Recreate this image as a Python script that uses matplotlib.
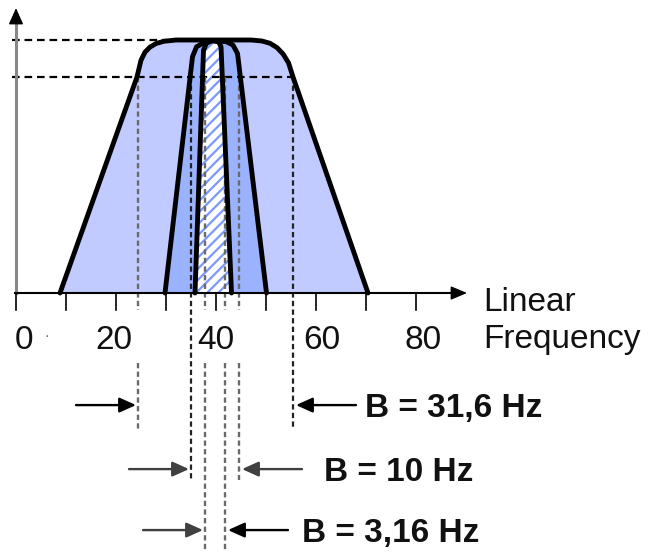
import matplotlib
matplotlib.use("Agg")
import matplotlib.pyplot as plt

plt.rcParams['font.family'] = ['Liberation Sans', 'DejaVu Sans']
plt.rcParams['hatch.linewidth'] = 1.6
plt.rcParams['lines.scale_dashes'] = False

# filter shapes: linear frequency vs. relative level (1 = peak)
outer_f = [8.8, 24.2, 25.0, 25.8, 26.8, 28.0, 29.6, 32.0, 47.0, 49.2, 50.8, 52.2, 53.4, 54.5, 55.4, 70.4]
outer_a = [0, 0.854, 0.920, 0.952, 0.972, 0.986, 0.995, 1.0, 1.0, 0.996, 0.987, 0.970, 0.945, 0.910, 0.854, 0]
mid_f = [29.8, 35.3, 36.1, 37.5, 39.4, 42.1, 43.4, 44.3, 50.1]
mid_a = [0, 0.934, 0.973, 0.989, 0.998, 0.993, 0.980, 0.947, 0]
inner_f = [35.8, 37.5, 38.1, 39.1, 40.5, 41.0, 43.1]
inner_a = [0, 0.960, 0.987, 0.997, 0.993, 0.974, 0]

peak = 1.0
half_power = 0.854

# bandwidth markers
band_labels = ['B = 31,6 Hz', 'B = 10 Hz', 'B = 3,16 Hz']
band_lo = [24.4, 35.0, 37.8]
band_hi = [55.4, 44.6, 41.8]

ticks = [0, 10, 20, 30, 40, 50, 60, 70, 80]
tick_labels = ['0', '20', '40', '60', '80']
tick_label_x = [1.5, 19.6, 40, 61.2, 81.4]

# layout (one axes spanning the figure, 5 px per Hz)
fig = plt.figure(figsize=(6.48, 5.52), dpi=100)
ax = fig.add_axes([0, 0, 1, 1])
ax.set_xlim(-3.2, 126.4)
ax.set_ylim(-1.0237, 1.1581)
ax.axis('off')

light = '#c2cbff'
medium = '#9bb3ff'
hatch_col = '#7b98fb'
gray = '#6a6a6a'

ax.fill(outer_f, outer_a, color=light, lw=0, zorder=1)
ax.fill(mid_f, mid_a, color=medium, lw=0, zorder=2)
ax.fill(inner_f, inner_a, facecolor='white', edgecolor=hatch_col, hatch='///', lw=0, zorder=3)

# dashed reference lines
dash_h = (0, (5.5, 3.5))
dash_v = (0, (3.8, 2.4))
ax.plot([-0.8, 30.2], [peak, peak], color='black', lw=1.6, ls=dash_h, zorder=4)
ax.plot([-0.8, band_hi[0]], [half_power, half_power], color='black', lw=1.6, ls=dash_h, zorder=4)

line_bottom = [-0.54, -0.74, -1.03]
gap_top, gap_bot = -0.067, -0.277
for i in range(3):
    # left edge of the widest band and right edges of the narrower ones are broken lines
    for f, broken in [(band_lo[i], i != 1), (band_hi[i], i != 0)]:
        if broken:
            ax.plot([f, f], [half_power, gap_top], color=gray, lw=1.7, ls=dash_v, zorder=4)
            ax.plot([f, f], [gap_bot, line_bottom[i]], color=gray, lw=1.7, ls=dash_v, zorder=4)
        else:
            ax.plot([f, f], [half_power, line_bottom[i]], color='#222222', lw=1.6, ls=dash_v, zorder=4)

for f, a in [(outer_f, outer_a), (mid_f, mid_a), (inner_f, inner_a)]:
    ax.plot(f, a, color='black', lw=3.5, solid_joinstyle='round', solid_capstyle='round', zorder=5)

# axes with arrows
ax.plot([0, 0], [0, 1.07], color='#888888', lw=2.2, zorder=6)
ax.annotate('', xy=(0, 1.126), xytext=(0, 1.07),
            arrowprops=dict(arrowstyle='-|>,head_length=1.0,head_width=0.45', color='black',
                            lw=1, mutation_scale=10, shrinkA=0, shrinkB=0), zorder=7)
ax.plot([-0.2, 88], [0, 0], color='black', lw=1.5, zorder=6)
ax.annotate('', xy=(90.2, 0), xytext=(87.5, 0),
            arrowprops=dict(arrowstyle='-|>,head_length=1.0,head_width=0.42', color='black',
                            lw=1, mutation_scale=10, shrinkA=0, shrinkB=0), zorder=7)
for t in ticks:
    ax.plot([t, t], [0, -0.067], color='black', lw=1.2, zorder=6)
for x, lab in zip(tick_label_x, tick_labels):
    ax.text(x, -0.221, lab, ha='center', va='baseline', fontsize=24, color='#111111')
ax.text(6.1, -0.17, '·', ha='center', va='center', fontsize=10, color='#666666')

ax.text(93.4, -0.071, 'Linear', ha='left', va='baseline', fontsize=24, color='#111111')
ax.text(93.4, -0.217, 'Frequency', ha='left', va='baseline', fontsize=24, color='#111111')

# bandwidth arrows
row_y = [-0.443, -0.696, -0.937]
label_x = [69.8, 61.6, 57.2]
arrow_cols = [('black', 'black'), ('#404040', '#404040'), ('#404040', 'black')]
arrow_len = 12
for i in range(3):
    y = row_y[i]
    head = dict(arrowstyle='-|>,head_length=1.0,head_width=0.45', lw=1.7,
                mutation_scale=10, shrinkA=0, shrinkB=0)
    lo_tip = band_lo[i] - 0.4
    hi_tip = band_hi[i] + 0.6
    ax.annotate('', xy=(lo_tip, y), xytext=(lo_tip - arrow_len, y),
                arrowprops=dict(head, color=arrow_cols[i][0]), zorder=7)
    ax.annotate('', xy=(hi_tip, y), xytext=(hi_tip + arrow_len, y),
                arrowprops=dict(head, color=arrow_cols[i][1]), zorder=7)
    ax.text(label_x[i], y - 0.047, band_labels[i], ha='left', va='baseline',
            fontsize=24, fontweight='bold', color='#111111')

fig.savefig('out.png', dpi=100, facecolor='white')
